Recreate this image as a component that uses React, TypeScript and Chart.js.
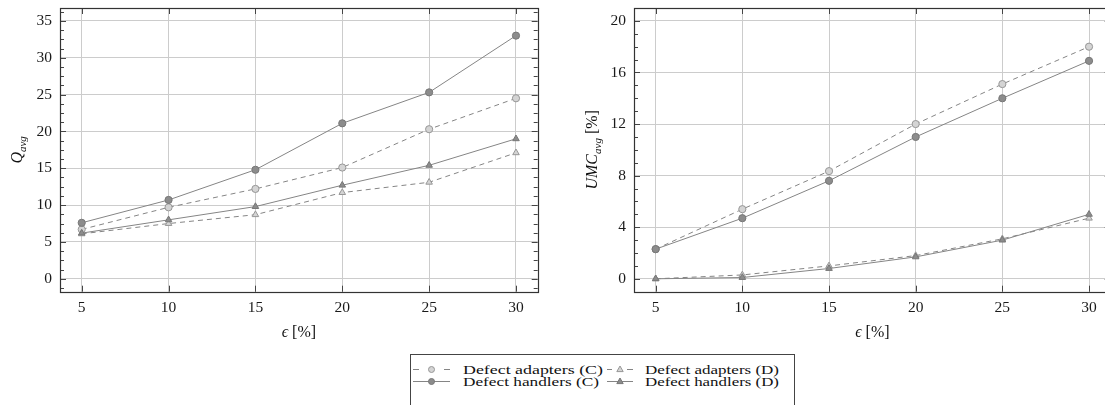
import React, { useEffect, useRef } from "react";
import { Chart, registerables } from "chart.js";

Chart.register(...registerables);

// ---- data -------------------------------------------------------------
const epsilonLevels = [5, 10, 15, 20, 25, 30];

const qTicks = [0, 5, 10, 15, 20, 25, 30, 35];
const umcTicks = [0, 4, 8, 12, 16, 20];

const qAdaptersC = [6.7, 9.7, 12.2, 15.1, 20.3, 24.5];
const qAdaptersD = [6.1, 7.5, 8.7, 11.7, 13.1, 17.1];
const qHandlersC = [7.6, 10.7, 14.8, 21.1, 25.3, 33.0];
const qHandlersD = [6.2, 8.0, 9.8, 12.7, 15.4, 19.0];

const umcAdaptersC = [2.3, 5.4, 8.35, 12.0, 15.1, 18.0];
const umcAdaptersD = [0.0, 0.3, 1.0, 1.8, 3.1, 4.7];
const umcHandlersC = [2.3, 4.7, 7.6, 11.0, 14.0, 16.9];
const umcHandlersD = [0.0, 0.1, 0.8, 1.7, 3.0, 5.0];

const seriesNames = [
  "Defect adapters (C)",
  "Defect adapters (D)",
  "Defect handlers (C)",
  "Defect handlers (D)",
];

// ---- styling ----------------------------------------------------------
const serif = '"Liberation Serif", "DejaVu Serif", serif';
const LINE_GRAY = "#858585";
const DARK_FILL = "#8c8c8c";
const DARK_EDGE = "#777777";
const LIGHT_FILL = "#d4d4d4";
const LIGHT_EDGE = "#979797";

type Part = { text: string; italic?: boolean; sub?: boolean };

function layoutParts(ctx: CanvasRenderingContext2D, parts: Part[], size: number, subSize: number) {
  let w = 0;
  const items = parts.map((p) => {
    const fs = p.sub ? subSize : size;
    const font = `${p.italic ? "italic " : ""}${fs}px ${serif}`;
    ctx.font = font;
    const m = ctx.measureText(p.text).width;
    const it = { p, font, x: w };
    w += m;
    return it;
  });
  return { items, w };
}

function drawParts(ctx: CanvasRenderingContext2D, parts: Part[], size: number, subSize: number) {
  const { items, w } = layoutParts(ctx, parts, size, subSize);
  ctx.textBaseline = "alphabetic";
  ctx.textAlign = "left";
  for (const it of items) {
    ctx.font = it.font;
    ctx.fillText(it.p.text, it.x - w / 2, it.p.sub ? 3.5 : 0);
  }
}

const axisDecor = {
  id: "axisDecor",
  beforeDatasetsDraw(chart: any, _args: any, opts: any) {
    const { ctx, chartArea: a } = chart;
    const xs = chart.scales.x;
    const ys = chart.scales.y;
    ctx.save();
    ctx.strokeStyle = "#454545";
    ctx.lineWidth = 1;
    ctx.beginPath();
    for (const v of opts.xMajor) {
      const px = Math.round(xs.getPixelForValue(v)) + 0.5;
      ctx.moveTo(px, a.bottom);
      ctx.lineTo(px, a.bottom - 6);
      ctx.moveTo(px, a.top);
      ctx.lineTo(px, a.top + 6);
    }
    for (const v of opts.yMajor) {
      const py = Math.round(ys.getPixelForValue(v)) + 0.5;
      ctx.moveTo(a.left, py);
      ctx.lineTo(a.left + 6, py);
      ctx.moveTo(a.right, py);
      ctx.lineTo(a.right - 6, py);
    }
    const step = opts.yMinorStep;
    for (let v = ys.min + 1e-9; v <= ys.max; v += step) {
      const val = Math.ceil(v / step) * step;
      if (val > ys.max) break;
      if (Math.abs(val / opts.yMajorStep - Math.round(val / opts.yMajorStep)) < 1e-6) continue;
      const py = Math.round(ys.getPixelForValue(val)) + 0.5;
      ctx.moveTo(a.left, py);
      ctx.lineTo(a.left + 4, py);
      ctx.moveTo(a.right, py);
      ctx.lineTo(a.right - 4, py);
    }
    ctx.stroke();
    ctx.strokeStyle = "#333333";
    ctx.lineWidth = 1.2;
    ctx.strokeRect(
      Math.round(a.left) + 0.5,
      Math.round(a.top) + 0.5,
      Math.round(a.right - a.left),
      Math.round(a.bottom - a.top)
    );
    ctx.restore();
  },
  afterDraw(chart: any, _args: any, opts: any) {
    const { ctx, chartArea: a } = chart;
    ctx.save();
    ctx.fillStyle = "#111111";
    // horizontal axis title
    ctx.save();
    ctx.translate((a.left + a.right) / 2, opts.xTitleY);
    drawParts(ctx, opts.xTitle, 16, 11);
    ctx.restore();
    // vertical axis title
    ctx.save();
    ctx.translate(opts.yTitleX, (a.top + a.bottom) / 2);
    ctx.rotate(-Math.PI / 2);
    drawParts(ctx, opts.yTitle, 16, 11);
    ctx.restore();
    ctx.restore();
  },
};

function series(xs: number[], ys: number[]) {
  return xs.map((x, i) => ({ x, y: ys[i] }));
}

function buildDatasets(ac: number[], ad: number[], hc: number[], hd: number[]) {
  const base = { borderWidth: 1, pointBorderWidth: 1, tension: 0, fill: false };
  return [
    {
      ...base,
      label: seriesNames[0],
      data: series(epsilonLevels, ac),
      borderColor: LINE_GRAY,
      borderDash: [5, 4],
      pointStyle: "circle",
      pointRadius: 3.6,
      pointBackgroundColor: LIGHT_FILL,
      pointBorderColor: LIGHT_EDGE,
      order: 4,
    },
    {
      ...base,
      label: seriesNames[1],
      data: series(epsilonLevels, ad),
      borderColor: LINE_GRAY,
      borderDash: [5, 4],
      pointStyle: "triangle",
      pointRadius: 3.8,
      pointBackgroundColor: LIGHT_FILL,
      pointBorderColor: LIGHT_EDGE,
      order: 3,
    },
    {
      ...base,
      label: seriesNames[2],
      data: series(epsilonLevels, hc),
      borderColor: LINE_GRAY,
      pointStyle: "circle",
      pointRadius: 3.6,
      pointBackgroundColor: DARK_FILL,
      pointBorderColor: DARK_EDGE,
      order: 2,
    },
    {
      ...base,
      label: seriesNames[3],
      data: series(epsilonLevels, hd),
      borderColor: LINE_GRAY,
      pointStyle: "triangle",
      pointRadius: 3.8,
      pointBackgroundColor: DARK_FILL,
      pointBorderColor: DARK_EDGE,
      order: 1,
    },
  ];
}

type PanelCfg = {
  datasets: any[];
  yTicks: number[];
  yMin: number;
  yMax: number;
  yMajorStep: number;
  yMinorStep: number;
  yAxisWidth: number;
  padRight: number;
  yTitle: Part[];
  yTitleX: number;
};

function makeChart(canvas: HTMLCanvasElement, cfg: PanelCfg, height: number) {
  const tickFont = { family: serif, size: 15.5 };
  return new Chart(canvas, {
    type: "line",
    data: { datasets: cfg.datasets },
    plugins: [axisDecor],
    options: {
      responsive: false,
      animation: false,
      events: [],
      layout: { padding: { left: 0, top: 8, right: cfg.padRight, bottom: 0 } },
      plugins: {
        legend: { display: false },
        tooltip: { enabled: false },
        axisDecor: {
          xMajor: epsilonLevels,
          yMajor: cfg.yTicks,
          yMajorStep: cfg.yMajorStep,
          yMinorStep: cfg.yMinorStep,
          xTitle: [{ text: "\u03f5", italic: true }, { text: " [%]" }],
          xTitleY: 337,
          yTitle: cfg.yTitle,
          yTitleX: cfg.yTitleX,
        },
      } as any,
      scales: {
        x: {
          type: "linear",
          min: 3.75,
          max: 31.25,
          afterBuildTicks: (s: any) => {
            s.ticks = epsilonLevels.map((v) => ({ value: v }));
          },
          afterFit: (s: any) => {
            s.height = height - 291.7;
            s.paddingLeft = 0;
            s.paddingRight = 0;
          },
          grid: { color: "#cccccc", lineWidth: 1, drawTicks: false },
          border: { display: false },
          ticks: { font: tickFont, color: "#1a1a1a", padding: 7, autoSkip: false, maxRotation: 0 },
        },
        y: {
          type: "linear",
          min: cfg.yMin,
          max: cfg.yMax,
          afterBuildTicks: (s: any) => {
            s.ticks = cfg.yTicks.map((v) => ({ value: v }));
          },
          afterFit: (s: any) => {
            s.width = cfg.yAxisWidth;
            s.paddingTop = 0;
            s.paddingBottom = 0;
          },
          grid: { color: "#cccccc", lineWidth: 1, drawTicks: false },
          border: { display: false },
          ticks: { font: tickFont, color: "#1a1a1a", padding: 8, autoSkip: false },
        },
      },
    } as any,
  });
}

function Legend() {
  const textFont = { fontFamily: serif, fontSize: 11.5, fill: "#111" } as const;
  return (
    <svg
      width={400}
      height={60}
      style={{ position: "absolute", left: 405, top: 349 }}
    >
      <rect x={5.5} y={5.5} width={384} height={70} fill="#fff" stroke="#444" strokeWidth={1} />
      {/* row 1: dashed samples */}
      <line x1={8} y1={20.5} x2={14} y2={20.5} stroke={LINE_GRAY} />
      <line x1={39} y1={20.5} x2={45} y2={20.5} stroke={LINE_GRAY} />
      <circle cx={26.5} cy={20.5} r={3} fill={LIGHT_FILL} stroke={LIGHT_EDGE} />
      <text x={58} y={24.5} textLength={140} lengthAdjust="spacingAndGlyphs" {...textFont}>
        {seriesNames[0]}
      </text>
      <line x1={202} y1={20.5} x2={207} y2={20.5} stroke={LINE_GRAY} />
      <line x1={222} y1={20.5} x2={228} y2={20.5} stroke={LINE_GRAY} />
      <polygon points="215,17 218.2,22.6 211.8,22.6" fill={LIGHT_FILL} stroke={LIGHT_EDGE} />
      <text x={240} y={24.5} textLength={134} lengthAdjust="spacingAndGlyphs" {...textFont}>
        {seriesNames[1]}
      </text>
      {/* row 2: solid samples */}
      <line x1={8} y1={32.5} x2={45} y2={32.5} stroke={LINE_GRAY} />
      <circle cx={26.5} cy={32.5} r={3} fill={DARK_FILL} stroke={DARK_EDGE} />
      <text x={58} y={36.5} textLength={136} lengthAdjust="spacingAndGlyphs" {...textFont}>
        {seriesNames[2]}
      </text>
      <line x1={202} y1={32.5} x2={228} y2={32.5} stroke={LINE_GRAY} />
      <polygon points="215,29 218.2,34.6 211.8,34.6" fill={DARK_FILL} stroke={DARK_EDGE} />
      <text x={240} y={36.5} textLength={134} lengthAdjust="spacingAndGlyphs" {...textFont}>
        {seriesNames[3]}
      </text>
    </svg>
  );
}

export default function App() {
  const leftRef = useRef<HTMLCanvasElement>(null);
  const rightRef = useRef<HTMLCanvasElement>(null);
  const H = 345;

  useEffect(() => {
    const left = makeChart(
      leftRef.current!,
      {
        datasets: buildDatasets(qAdaptersC, qAdaptersD, qHandlersC, qHandlersD),
        yTicks: qTicks,
        yMin: -1.75,
        yMax: 36.75,
        yMajorStep: 5,
        yMinorStep: 1.25,
        yAxisWidth: 60,
        padRight: 560 - 537.7,
        yTitle: [{ text: "Q", italic: true }, { text: "avg", italic: true, sub: true }],
        yTitleX: 22,
      },
      H
    );
    const right = makeChart(
      rightRef.current!,
      {
        datasets: buildDatasets(umcAdaptersC, umcAdaptersD, umcHandlersC, umcHandlersD),
        yTicks: umcTicks,
        yMin: -1,
        yMax: 21,
        yMajorStep: 4,
        yMinorStep: 1,
        yAxisWidth: 74,
        padRight: 560 - 550.7,
        yTitle: [
          { text: "UMC", italic: true },
          { text: "avg", italic: true, sub: true },
          { text: " [%]" },
        ],
        yTitleX: 37,
      },
      H
    );
    return () => {
      left.destroy();
      right.destroy();
    };
  }, []);

  return (
    <div
      style={{
        position: "fixed",
        left: 0,
        top: 0,
        width: 1105,
        height: 405,
        overflow: "hidden",
        background: "#fff",
      }}
    >
      <canvas ref={leftRef} width={560} height={H} style={{ position: "absolute", left: 0, top: 0 }} />
      <canvas ref={rightRef} width={560} height={H} style={{ position: "absolute", left: 560, top: 0 }} />
      <Legend />
    </div>
  );
}
